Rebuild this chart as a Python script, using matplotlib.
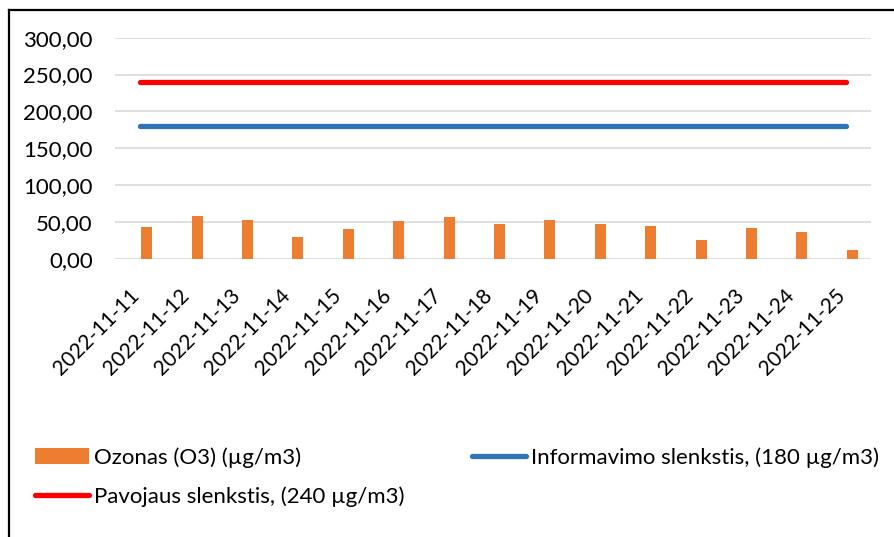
import matplotlib
matplotlib.use("Agg")
import matplotlib.pyplot as plt
from matplotlib.lines import Line2D
from matplotlib.patches import Patch
import numpy as np

dates = ["2022-11-11", "2022-11-12", "2022-11-13", "2022-11-14", "2022-11-15",
         "2022-11-16", "2022-11-17", "2022-11-18", "2022-11-19", "2022-11-20",
         "2022-11-21", "2022-11-22", "2022-11-23", "2022-11-24", "2022-11-25"]
ozone = [42.6, 58.0, 52.5, 29.5, 39.9, 51.2, 56.6, 47.5, 52.5, 47.1,
         44.4, 25.3, 41.7, 35.8, 11.8]
info_threshold = [180] * len(dates)
alarm_threshold = [240] * len(dates)
yticks = [0, 50, 100, 150, 200, 250, 300]

FONT = ["Lato", "DejaVu Sans"]
plt.rcParams['font.family'] = FONT
FS = 16

W, H = 894, 537
fig = plt.figure(figsize=(W / 100, H / 100), dpi=100)
ax = fig.add_axes([115 / W, 1 - 258.7 / H, (871 - 115) / W, (258.7 - 37.7) / H])

x = np.arange(len(dates))
ax.bar(x + 0.13, ozone, width=0.22, color="#ED7D31", zorder=3)
ax.plot(x, info_threshold, color="#2E75B6", lw=3.8, solid_capstyle="round", zorder=4)
ax.plot(x, alarm_threshold, color="#FF0000", lw=3.8, solid_capstyle="round", zorder=4)

ax.set_xlim(-0.5, len(dates) - 0.5)
ax.set_ylim(0, 300)
ax.set_yticks(yticks)
ax.set_yticklabels([f"{v:.2f}".replace(".", ",") for v in yticks], fontsize=FS)
ax.set_xticks(x + 0.06)
ax.set_xticklabels(dates, rotation=45, ha="right", va="top", fontsize=15)
ax.tick_params(axis="both", length=0, colors="black")
ax.tick_params(axis="x", pad=19)
ax.tick_params(axis="y", pad=16)
ax.grid(axis="y", color="#D9D9D9", lw=1.2, zorder=0)
for s in ax.spines.values():
    s.set_visible(False)

# legends
h_oz = Patch(facecolor="#ED7D31")
h_red = Line2D([], [], color="#FF0000", lw=3.8, solid_capstyle="round")
h_blue = Line2D([], [], color="#2E75B6", lw=3.8, solid_capstyle="round")
leg1 = fig.legend([h_oz, h_red], ["Ozonas (O3) (µg/m3)", "Pavojaus slenkstis, (240 µg/m3)"],
                  loc="upper left", bbox_to_anchor=(35 / W, 1 - 447 / H),
                  frameon=False, fontsize=FS, handlelength=2.45, handletextpad=0.2,
                  labelspacing=0.85, borderaxespad=0, borderpad=0)
leg2 = fig.legend([h_blue], ["Informavimo slenkstis, (180 µg/m3)"],
                  loc="upper left", bbox_to_anchor=(472 / W, 1 - 447 / H),
                  frameon=False, fontsize=FS, handlelength=2.45, handletextpad=0.2,
                  borderaxespad=0, borderpad=0)

# chart frame (partially visible, as in the reference)
fig.add_artist(Line2D([8.5 / W, 8.5 / W], [0, 1 - 9.5 / H], transform=fig.transFigure,
                      color="black", lw=1.6))
fig.add_artist(Line2D([8.5 / W, 1], [1 - 9.5 / H, 1 - 9.5 / H], transform=fig.transFigure,
                      color="black", lw=1.6))

fig.savefig("out.png", dpi=100)
